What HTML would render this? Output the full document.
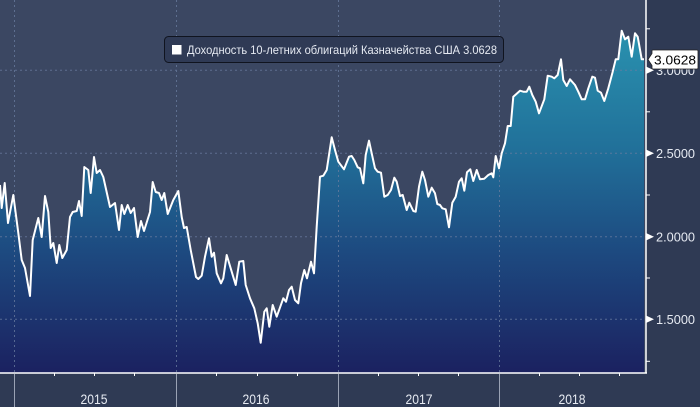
<!DOCTYPE html>
<html><head><meta charset="utf-8"><style>
html,body{margin:0;padding:0;background:#2f3a54;}
svg{display:block;}
text{font-family:"Liberation Sans","DejaVu Sans",sans-serif;}
</style></head><body>
<svg width="700" height="407" viewBox="0 0 700 407" xmlns="http://www.w3.org/2000/svg">
<defs>
<linearGradient id="g" gradientUnits="userSpaceOnUse" x1="0" y1="25" x2="0" y2="373">
<stop offset="0" stop-color="#2a93b0"/>
<stop offset="0.35" stop-color="#21719a"/>
<stop offset="0.65" stop-color="#1d4a80"/>
<stop offset="1" stop-color="#1b2160"/>
</linearGradient>
</defs>
<rect x="0" y="0" width="700" height="407" fill="#2f3a54"/>
<rect x="0" y="0" width="646" height="373" fill="#3b4762"/>
<path id="area" fill="url(#g)" d="M0,373 L0,185 1.7,208 4.7,183 8,223 13.3,195 18.3,233 21.7,260 25,268 30,296 32.7,240 38.3,218 41.7,237 45,196 48.3,212 50.7,248 53.3,243 56.7,263 59.3,245 62.3,258 66.7,250 70,217 72.7,212 76.7,211 79,201 81.7,216 84.3,167 88.3,170 90.7,193 94,157 96.7,173 100,170 103.3,177 110,207 115,203 119,230 121.7,205 124.3,214 127.7,205 130.7,213 134,208 137.7,237 141,221 144,231 150,212 152.7,182 155.7,192 159,193 161.7,200 164.3,193 167.7,214 173.3,200 178.3,191 181.7,217 184,228 186.7,227 190.7,250 196,277 198.3,279 201.7,275.7 205,256.7 209,238.3 211.7,256.7 214,252.7 216.7,273.3 221,283.3 223.3,278.3 226.7,255 231.7,271.7 235.7,285 239.3,261.7 243.3,261 245.7,285 250,298.3 254.3,308.3 257.7,323.3 260.7,342.7 264.3,311.7 266.7,308.3 269.3,326.7 272.7,305 276.7,316.7 283.3,298.3 286,301.7 289,290 291.7,286.7 295,300 298.3,303.3 301,283.3 304.3,270 307,278.3 311,261.7 314,273.3 316.7,226.7 320,176.7 323.3,175.7 326.7,170 331.7,137.3 335,150 338.3,161.7 344,169.3 349,156.7 351.7,156 354.3,160 357.7,167.3 360,168.3 363.3,183.3 365.7,155 369,140.7 371.7,153.3 375,168.3 377.7,171.7 381,172.7 384.3,196.7 387.7,195 391,190 394.3,177.7 396.7,181.7 400,196 402.7,195 406.7,210 409.3,202.7 413.3,211 415.7,211.7 419,186.7 422.3,171.7 425,180 428.3,196.7 431.7,187.7 435,193.3 437.3,204 440,205 442.3,208.3 445.7,209.3 449,227.3 452.3,202.7 455.7,196.7 459,181.7 461.7,178.3 464.3,190.7 467,172.3 470.3,169.3 473.3,181 476.7,170 480,179.3 484.3,178.7 488.3,175 491.7,173.3 493.3,177.3 495.7,156 499,168.3 501.7,153.3 505,143.3 507.7,126 510.7,126 513.3,96.7 520,90.7 523.3,91.7 526.7,91.7 529.3,86.7 532.3,95 535.7,101.7 539,113.3 544.3,99.3 547.7,75.7 551.7,76.7 554.3,78.3 557.7,75 561,59.3 563.3,80 566.7,86 570,79.3 575,85 578.3,91.7 581.7,99.3 585,99.3 588.3,88.3 592.3,76.7 595,77.7 597.7,90.7 601,92.7 604.3,101 608.3,88.3 612.3,73.3 615.7,59.3 618.3,59.3 621.7,30.7 625,39.3 628.3,36.7 631.7,56.7 635,33.3 637.7,36.7 641.7,59.3 644,59.3 L644,373 Z"/>
<!-- gridlines -->
<g stroke="#6a7da0" stroke-width="1" stroke-dasharray="2,3" opacity="0.75">
<line x1="0" y1="70.3" x2="646" y2="70.3"/>
<line x1="0" y1="153.3" x2="646" y2="153.3"/>
<line x1="0" y1="236.7" x2="646" y2="236.7"/>
<line x1="0" y1="319.3" x2="646" y2="319.3"/>
<line x1="14.5" y1="0" x2="14.5" y2="373"/>
<line x1="176.5" y1="0" x2="176.5" y2="373"/>
<line x1="338.5" y1="0" x2="338.5" y2="373"/>
<line x1="499.5" y1="0" x2="499.5" y2="373"/>
</g>
<polyline fill="none" stroke="#ffffff" stroke-width="2" stroke-linejoin="round" points="0,185 1.7,208 4.7,183 8,223 13.3,195 18.3,233 21.7,260 25,268 30,296 32.7,240 38.3,218 41.7,237 45,196 48.3,212 50.7,248 53.3,243 56.7,263 59.3,245 62.3,258 66.7,250 70,217 72.7,212 76.7,211 79,201 81.7,216 84.3,167 88.3,170 90.7,193 94,157 96.7,173 100,170 103.3,177 110,207 115,203 119,230 121.7,205 124.3,214 127.7,205 130.7,213 134,208 137.7,237 141,221 144,231 150,212 152.7,182 155.7,192 159,193 161.7,200 164.3,193 167.7,214 173.3,200 178.3,191 181.7,217 184,228 186.7,227 190.7,250 196,277 198.3,279 201.7,275.7 205,256.7 209,238.3 211.7,256.7 214,252.7 216.7,273.3 221,283.3 223.3,278.3 226.7,255 231.7,271.7 235.7,285 239.3,261.7 243.3,261 245.7,285 250,298.3 254.3,308.3 257.7,323.3 260.7,342.7 264.3,311.7 266.7,308.3 269.3,326.7 272.7,305 276.7,316.7 283.3,298.3 286,301.7 289,290 291.7,286.7 295,300 298.3,303.3 301,283.3 304.3,270 307,278.3 311,261.7 314,273.3 316.7,226.7 320,176.7 323.3,175.7 326.7,170 331.7,137.3 335,150 338.3,161.7 344,169.3 349,156.7 351.7,156 354.3,160 357.7,167.3 360,168.3 363.3,183.3 365.7,155 369,140.7 371.7,153.3 375,168.3 377.7,171.7 381,172.7 384.3,196.7 387.7,195 391,190 394.3,177.7 396.7,181.7 400,196 402.7,195 406.7,210 409.3,202.7 413.3,211 415.7,211.7 419,186.7 422.3,171.7 425,180 428.3,196.7 431.7,187.7 435,193.3 437.3,204 440,205 442.3,208.3 445.7,209.3 449,227.3 452.3,202.7 455.7,196.7 459,181.7 461.7,178.3 464.3,190.7 467,172.3 470.3,169.3 473.3,181 476.7,170 480,179.3 484.3,178.7 488.3,175 491.7,173.3 493.3,177.3 495.7,156 499,168.3 501.7,153.3 505,143.3 507.7,126 510.7,126 513.3,96.7 520,90.7 523.3,91.7 526.7,91.7 529.3,86.7 532.3,95 535.7,101.7 539,113.3 544.3,99.3 547.7,75.7 551.7,76.7 554.3,78.3 557.7,75 561,59.3 563.3,80 566.7,86 570,79.3 575,85 578.3,91.7 581.7,99.3 585,99.3 588.3,88.3 592.3,76.7 595,77.7 597.7,90.7 601,92.7 604.3,101 608.3,88.3 612.3,73.3 615.7,59.3 618.3,59.3 621.7,30.7 625,39.3 628.3,36.7 631.7,56.7 635,33.3 637.7,36.7 641.7,59.3 644,59.3"/>
<!-- axes -->
<line x1="0" y1="373" x2="647" y2="373" stroke="#ffffff" stroke-width="1.5"/>
<line x1="646" y1="0" x2="646" y2="373.5" stroke="#ffffff" stroke-width="1.5"/>
<!-- year separators below axis -->
<g stroke="#9aa2b4" stroke-width="1">
<line x1="14.5" y1="374" x2="14.5" y2="407"/>
<line x1="176.5" y1="374" x2="176.5" y2="407"/>
<line x1="338.5" y1="374" x2="338.5" y2="407"/>
<line x1="499.5" y1="374" x2="499.5" y2="407"/>
</g>
<!-- quarter ticks -->
<g stroke="#ffffff" stroke-width="1">
<line x1="54.5" y1="373" x2="54.5" y2="376"/>
<line x1="94.5" y1="373" x2="94.5" y2="376"/>
<line x1="134.5" y1="373" x2="134.5" y2="376"/>
<line x1="216.5" y1="373" x2="216.5" y2="376"/>
<line x1="257.5" y1="373" x2="257.5" y2="376"/>
<line x1="297.5" y1="373" x2="297.5" y2="376"/>
<line x1="378.5" y1="373" x2="378.5" y2="376"/>
<line x1="418.5" y1="373" x2="418.5" y2="376"/>
<line x1="458.5" y1="373" x2="458.5" y2="376"/>
<line x1="539.5" y1="373" x2="539.5" y2="376"/>
<line x1="579.5" y1="373" x2="579.5" y2="376"/>
<line x1="619.5" y1="373" x2="619.5" y2="376"/>
<!-- right minor ticks -->
<line x1="646" y1="28.8" x2="650" y2="28.8"/>
<line x1="646" y1="111.8" x2="650" y2="111.8"/>
<line x1="646" y1="195" x2="650" y2="195"/>
<line x1="646" y1="278" x2="650" y2="278"/>
<line x1="646" y1="361.3" x2="650" y2="361.3"/>
</g>
<!-- major tick triangles -->
<g fill="#ffffff">
<polygon points="646.5,66.8 654,70.3 646.5,73.8"/>
<polygon points="646.5,149.8 654,153.3 646.5,156.8"/>
<polygon points="646.5,233.2 654,236.7 646.5,240.2"/>
<polygon points="646.5,315.8 654,319.3 646.5,322.8"/>
</g>
<g fill="#e6eaf2" font-size="13">
<text x="656" y="75" textLength="39" lengthAdjust="spacingAndGlyphs">3.0000</text>
<text x="656" y="158" textLength="39" lengthAdjust="spacingAndGlyphs">2.5000</text>
<text x="656" y="241.5" textLength="39" lengthAdjust="spacingAndGlyphs">2.0000</text>
<text x="656" y="324" textLength="39" lengthAdjust="spacingAndGlyphs">1.5000</text>
</g>
<!-- last value label -->
<path d="M648,59.5 L652,53.5 L652,50.5 Q652,50 653,50 L697,50 Q698,50 698,51 L698,68 Q698,69 697,69 L653,69 Q652,69 652,68 L652,65.5 Z" fill="#ffffff" stroke="#222" stroke-width="0.8"/>
<text x="654" y="64.5" font-size="13" fill="#000" textLength="42" lengthAdjust="spacingAndGlyphs">3.0628</text>
<!-- year labels -->
<g fill="#e6eaf2" font-size="14" text-anchor="middle">
<text x="94" y="404" textLength="27" lengthAdjust="spacingAndGlyphs">2015</text>
<text x="256" y="404" textLength="27" lengthAdjust="spacingAndGlyphs">2016</text>
<text x="419" y="404" textLength="27" lengthAdjust="spacingAndGlyphs">2017</text>
<text x="572" y="404" textLength="27" lengthAdjust="spacingAndGlyphs">2018</text>
</g>
<!-- legend -->
<rect x="164.5" y="36.5" width="339" height="26" rx="4" ry="4" fill="#2f3a55" stroke="#10141f" stroke-width="1"/>
<rect x="172" y="45" width="9.5" height="9.5" fill="#ffffff"/>
<text x="187" y="54" font-size="12" fill="#e6eaf2" textLength="310" lengthAdjust="spacingAndGlyphs">Доходность 10-летних облигаций Казначейства США  3.0628</text>
</svg>
</body></html>
